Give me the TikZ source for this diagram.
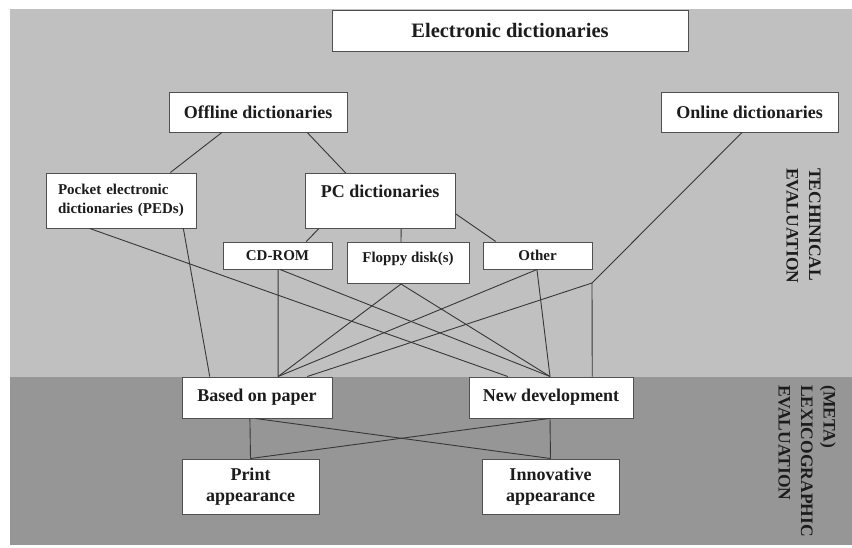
\documentclass[tikz,border=0pt]{standalone}
\usepackage{fontspec}
\setmainfont{Liberation Serif}
\usetikzlibrary{calc}
\definecolor{bglight}{RGB}{192,192,192}
\definecolor{bgdark}{RGB}{150,150,150}
\definecolor{boxc}{RGB}{80,80,80}
\definecolor{linec}{RGB}{55,55,55}
\definecolor{txtc}{RGB}{28,28,28}
\newcommand{\ftitle}{\fontsize{20.5}{24}\selectfont\bfseries}
\newcommand{\fmain}{\fontsize{18}{21}\selectfont\bfseries}
\newcommand{\fsmall}{\fontsize{15}{19}\selectfont\bfseries}
\newcommand{\fside}{\fontsize{17.5}{22.5}\selectfont\bfseries}
\tikzset{
  box/.style={draw=boxc, fill=white, line width=1pt, inner sep=0pt, text=txtc, align=center},
  conn/.style={draw=linec, line width=0.9pt},
  sidelab/.style={text=txtc, rotate=-90, anchor=north west, align=left, inner sep=0pt, font=\fside}
}
\begin{document}
\begin{tikzpicture}[x=1pt,y=-1pt]
\useasboundingbox (0,0) rectangle (852,547);
% backgrounds
\fill[bglight] (10,9) rectangle (852,377);
\fill[bgdark] (10,377) rectangle (852,545);
% connectors first (drawn under boxes)
\coordinate (J) at (592,283);
% nodes
\node[box, font=\ftitle, minimum width=356, minimum height=41] (title) at (510,30.5) {Electronic dictionaries};
\node[box, font=\fmain, minimum width=178, minimum height=40] (off) at (258,112) {Offline dictionaries};
\node[box, font=\fmain, minimum width=177, minimum height=40] (on) at (749.5,112) {Online dictionaries};
\node[box, font=\fsmall, minimum width=150, minimum height=55, text width=126, align=left] (pocket) at (121,200.5) {Pocket electronic\\dictionaries (PEDs)};
\node[box, font=\fmain, minimum width=150, text height=24, text depth=31, anchor=north] (pc) at (380,173) {PC dictionaries};
\node[box, font=\fsmall, minimum width=109, minimum height=27] (cd) at (277.5,255.5) {CD-ROM};
\node[box, font=\fsmall, minimum width=122, text height=20, text depth=21, anchor=north] (floppy) at (408,242) {Floppy disk(s)};
\node[box, font=\fsmall, minimum width=109, minimum height=27] (other) at (537.5,255.5) {Other};
\node[box, font=\fmain, minimum width=150, minimum height=41] (based) at (257,397.5) {Based on paper};
\node[box, font=\fmain, minimum width=164, minimum height=41] (newdev) at (551,397.5) {New development};
\node[box, font=\fmain, minimum width=137, minimum height=55] (print) at (250.5,486.5) {Print\\appearance};
\node[box, font=\fmain, minimum width=137, minimum height=55] (innov) at (550.5,486.5) {Innovative\\appearance};
% side labels
\node[sidelab] (tech) at (821,168) {TECHINICAL\\EVALUATION};
\node[sidelab] (lexi) at (836,385) {(META)\\LEXICOGRAPHIC\\EVALUATION};
% connectors
\draw[conn] ($(off.south west)!0.298!(off.south east)$) -- ($(pocket.north west)!0.827!(pocket.north east)$);
\draw[conn] ($(off.south west)!0.775!(off.south east)$) -- ($(pc.north west)!0.273!(pc.north east)$);
\draw[conn] ($(pc.south west)!0.093!(pc.south east)$) -- ($(cd.north west)!0.761!(cd.north east)$);
\draw[conn] ($(pc.south west)!0.64!(pc.south east)$) -- ($(floppy.north west)!0.443!(floppy.north east)$);
\draw[conn] ($(pc.north east)!0.727!(pc.south east)$) -- ($(other.north west)!0.12!(other.north east)$);
\draw[conn] ($(on.south west)!0.458!(on.south east)$) -- (J);
\draw[conn] (J) -- ($(newdev.north west)!0.75!(newdev.north east)$);
\draw[conn] (J) -- ($(based.north west)!0.833!(based.north east)$);
\draw[conn] ($(pocket.south west)!0.293!(pocket.south east)$) -- ($(newdev.north west)!0.238!(newdev.north east)$);
\draw[conn] ($(pocket.south west)!0.913!(pocket.south east)$) -- ($(based.north west)!0.187!(based.north east)$);
\draw[conn] ($(cd.south west)!0.505!(cd.south east)$) -- ($(based.north west)!0.64!(based.north east)$);
\draw[conn] ($(cd.south west)!0.523!(cd.south east)$) -- ($(newdev.north west)!0.494!(newdev.north east)$);
\draw[conn] ($(floppy.south west)!0.443!(floppy.south east)$) -- ($(based.north west)!0.64!(based.north east)$);
\draw[conn] ($(floppy.south west)!0.443!(floppy.south east)$) -- ($(newdev.north west)!0.494!(newdev.north east)$);
\draw[conn] ($(other.south west)!0.495!(other.south east)$) -- ($(based.north west)!0.64!(based.north east)$);
\draw[conn] ($(other.south west)!0.495!(other.south east)$) -- ($(newdev.north west)!0.494!(newdev.north east)$);
\draw[conn] ($(based.south west)!0.453!(based.south east)$) -- (print.north);
\draw[conn] ($(based.south west)!0.49!(based.south east)$) -- (innov.north);
\draw[conn] ($(newdev.south west)!0.494!(newdev.south east)$) -- (innov.north);
\draw[conn] ($(newdev.south west)!0.488!(newdev.south east)$) -- (print.north);
\end{tikzpicture}
\end{document}
